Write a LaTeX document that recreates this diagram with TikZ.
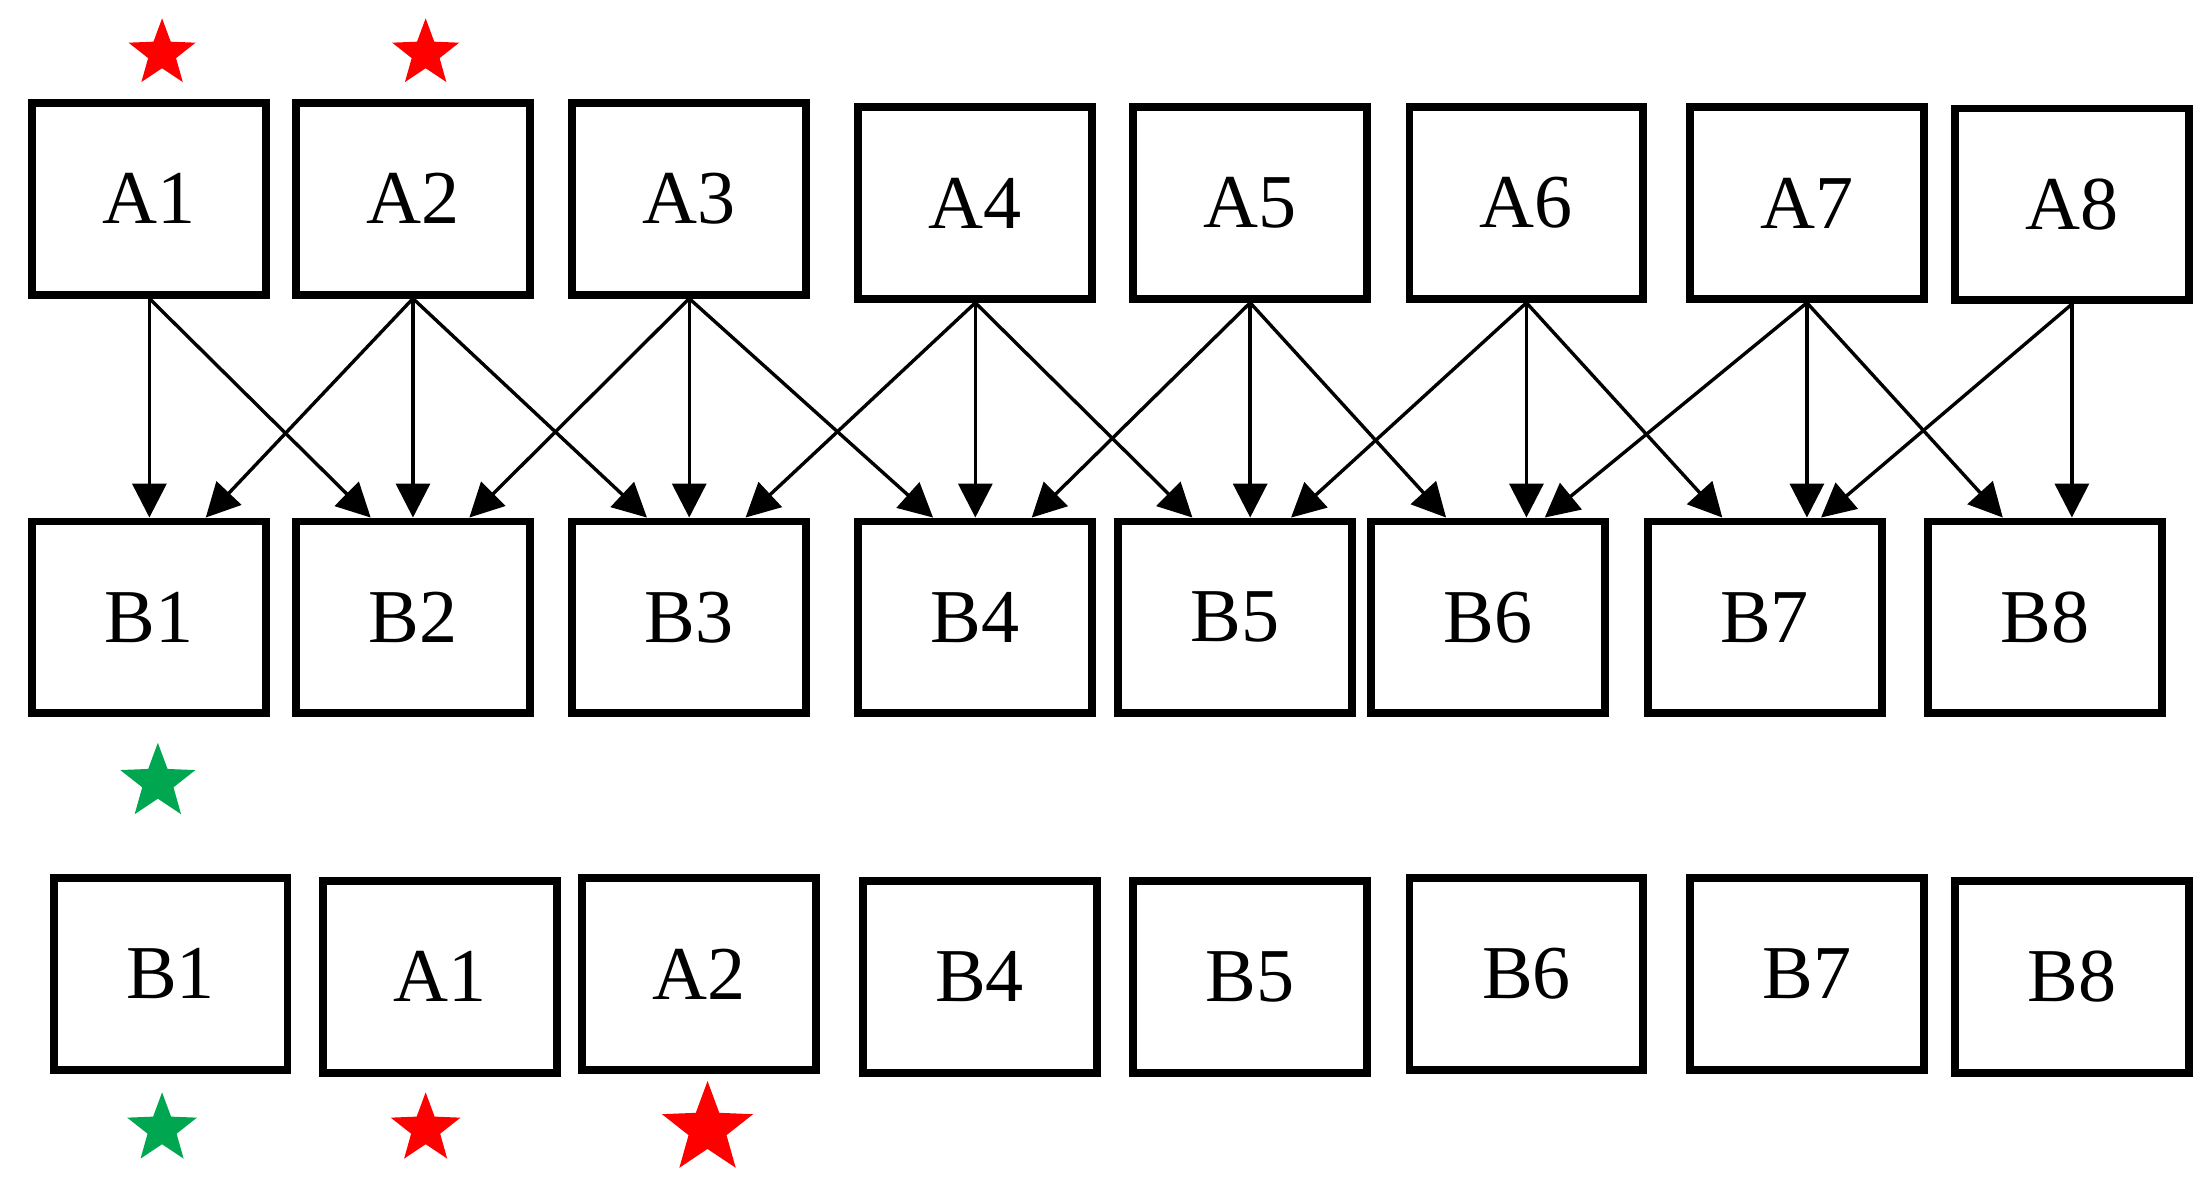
\documentclass[tikz,border=0pt]{standalone}
\usepackage{fontspec}
\setmainfont{Liberation Serif}
\usetikzlibrary{shapes.geometric,calc,arrows.meta}
\definecolor{gr}{RGB}{0,166,80}
\begin{document}
\begin{tikzpicture}[x=0.5pt,y=-0.5pt,
 bx/.style={draw,line width=2.8pt,minimum width=83pt,minimum height=68pt,inner sep=0pt,font=\fontsize{27}{27}\selectfont},
 ar/.style={line width=1.2pt,-{Triangle[length=12pt,width=12pt]}},
 st/.style={star,star points=5,star point ratio=2.4,inner sep=0pt,minimum size=#1}]
\useasboundingbox (0,0) rectangle (1568,842);
\fill[white] (0,0) rectangle (1568,842);
\foreach \n/\x/\y in {1/106/141,2/293/141,3/489/141,4/692/144,5/887/144,6/1083/144,7/1282/144,8/1470/145}
  \node[bx] (A\n) at (\x,\y) {A\n};
\foreach \n/\x in {1/106,2/293,3/489,4/692,5/876,6/1056,7/1252,8/1451}
  \node[bx] (B\n) at (\x,438) {B\n};
\node[bx] (C1) at (121,691) {B1};
\node[bx] (C2) at (312,693) {A1};
\node[bx] (C3) at (496,691) {A2};
\node[bx] (C4) at (695,693) {B4};
\node[bx] (C5) at (887,693) {B5};
\node[bx] (C6) at (1083,691) {B6};
\node[bx] (C7) at (1282,691) {B7};
\node[bx] (C8) at (1470,693) {B8};
\foreach \i in {1,...,8} \draw[ar] (A\i.south) -- (A\i.south |- B\i.north);
\foreach \i/\j in {1/2,2/3,3/4,4/5,5/6,6/7,7/8} {
  \draw[ar] (A\i.south) -- ($(B\j.north)+(-30,0)$);
  \draw[ar] (A\j.south) -- ($(B\i.north)+(40,0)$);
}
\node[st=25pt,fill=red] (s1) at (115,38) {};
\node[st=25pt,fill=red] (s2) at (302,38) {};
\node[st=28pt,fill=gr] (s3) at (112,555) {};
\node[st=26pt,fill=gr] (s4) at (115,801) {};
\node[st=26pt,fill=red] (s5) at (302,801) {};
\node[st=34pt,fill=red] (s6) at (502,801) {};
\end{tikzpicture}
\end{document}
